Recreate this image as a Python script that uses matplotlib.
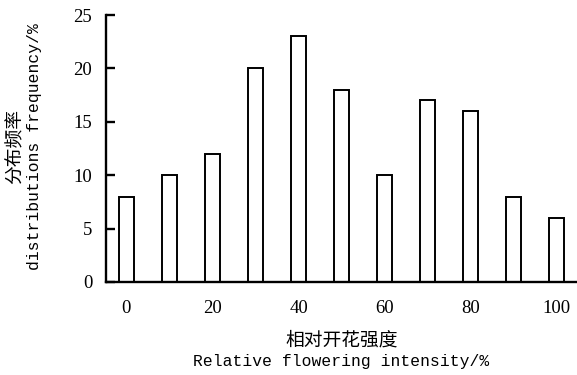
import matplotlib
matplotlib.use("Agg")
import matplotlib.pyplot as plt

# relative flowering intensity classes (%) and distribution frequency (%)
intensity = [0, 10, 20, 30, 40, 50, 60, 70, 80, 90, 100]
frequency = [8, 10, 12, 20, 23, 18, 10, 17, 16, 8, 6]
xtick_labels = ["0", "20", "40", "60", "80", "100"]
yticks = [0, 5, 10, 15, 20, 25]

fig = plt.figure(figsize=(5.77, 3.75), dpi=100)
ax = fig.add_axes([0.184, 0.248, 0.816, 0.712])

pos = list(range(len(intensity)))
ax.bar(pos, frequency, width=0.34, color="white",
       edgecolor="black", linewidth=1.4)

ax.set_xlim(-0.47, 10.47)
ax.set_ylim(0, 25)
ax.set_yticks(yticks)
ax.set_xticks(pos[::2])
ax.set_xticklabels(xtick_labels)

for s in ["top", "right"]:
    ax.spines[s].set_visible(False)
for s in ["left", "bottom"]:
    ax.spines[s].set_linewidth(1.7)

ax.tick_params(axis="y", direction="in", length=6.5, width=1.7,
               pad=10, labelsize=13.5)
ax.tick_params(axis="x", length=0, pad=13, labelsize=13.5)
for lab in ax.get_xticklabels() + ax.get_yticklabels():
    lab.set_family("Liberation Serif")

cjk = ["Noto Sans CJK SC", "DejaVu Sans"]
mono = "Liberation Mono"

fig.text(0.592, 0.093, "相对开花强度", ha="center", va="center",
         family=cjk, fontsize=13.5)
fig.text(0.592, 0.035, "Relative flowering intensity/%", ha="center",
         va="center", family=mono, fontsize=11.8)
fig.text(0.026, 0.608, "分布频率", ha="center", va="center",
         rotation=90, family=cjk, fontsize=13.5)
fig.text(0.059, 0.608, "distributions frequency/%", ha="center",
         va="center", rotation=90, family=mono, fontsize=11.8)

plt.savefig("out.png", dpi=100)
